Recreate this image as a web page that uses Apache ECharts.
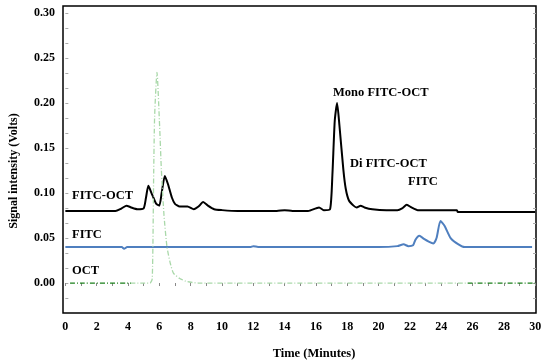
<!DOCTYPE html>
<html>
<head>
<meta charset="utf-8">
<script src="https://cdn.jsdelivr.net/npm/echarts@6/dist/echarts.min.js"></script>
<style>
  html, body { margin: 0; padding: 0; background: #fff; }
  #chart { width: 550px; height: 364px; }
</style>
</head>
<body>
<div id="chart"></div>
<script>
// time (minutes), signal (volts)
var fitcOct = [
  [0, 0.080], [3.2, 0.080], [3.5, 0.082], [3.9, 0.086], [4.2, 0.084], [4.6, 0.082],
  [5.0, 0.083], [5.15, 0.095], [5.3, 0.108], [5.5, 0.100], [5.8, 0.088], [6.0, 0.086],
  [6.15, 0.100], [6.35, 0.119], [6.55, 0.110], [6.8, 0.095], [7.0, 0.088], [7.3, 0.085],
  [7.8, 0.085], [8.2, 0.082], [8.5, 0.085], [8.8, 0.090], [9.1, 0.086], [9.5, 0.082],
  [10, 0.081], [11, 0.080], [13.5, 0.080], [14, 0.081], [14.5, 0.080], [15.5, 0.080],
  [16.0, 0.083], [16.2, 0.084], [16.5, 0.081], [16.9, 0.082], [17.05, 0.120], [17.2, 0.180],
  [17.35, 0.200], [17.5, 0.175], [17.75, 0.126], [17.9, 0.105], [18.1, 0.092], [18.4, 0.086],
  [18.6, 0.084], [18.85, 0.086], [19.1, 0.084], [19.6, 0.082], [20.5, 0.081], [21.2, 0.081],
  [21.5, 0.083], [21.8, 0.087], [22.1, 0.084], [22.5, 0.081], [25, 0.081], [25.05, 0.079],
  [30, 0.079]
];
var fitc = [
  [0, 0.040], [3.6, 0.040], [3.75, 0.038], [3.95, 0.040], [11.8, 0.040], [12.0, 0.041],
  [12.3, 0.040], [20, 0.040], [21.2, 0.041], [21.6, 0.043], [21.9, 0.041], [22.2, 0.042],
  [22.35, 0.048], [22.6, 0.0525], [22.9, 0.049], [23.2, 0.046], [23.5, 0.044], [23.7, 0.050],
  [23.95, 0.069], [24.2, 0.064], [24.6, 0.050], [25.1, 0.043], [25.5, 0.040], [29.8, 0.040]
];
var oct = [
  [0.3, 0], [5.4, 0], [5.55, 0.005], [5.64, 0.122], [5.7, 0.185], [5.85, 0.234],
  [6.02, 0.174], [6.13, 0.126], [6.3, 0.075], [6.49, 0.040], [6.7, 0.022], [6.9, 0.011],
  [7.3, 0.005], [7.8, 0.0015], [8.5, 0], [30, 0]
];
var xTickLabels = [0, 2, 4, 6, 8, 10, 12, 14, 16, 18, 20, 22, 24, 26, 28, 30];
var yTickLabels = [0, 0.05, 0.10, 0.15, 0.20, 0.25, 0.30];

var xMinor = [];
for (var i = 0; i <= 30; i++) xMinor.push(i);
var yMinor = [];
for (var j = -2; j <= 18; j++) yMinor.push(j / 60);

var serif = "'Liberation Serif', 'Times New Roman', serif";
var labelFont = { color: '#000', fontFamily: serif, fontWeight: 'bold', fontSize: 12 };

function note(text, x, y) {
  return {
    type: 'text', left: x, top: y - 7,
    style: { text: text, fill: '#000', font: 'bold 12.5px ' + serif }
  };
}

var chart = echarts.init(document.getElementById('chart'));
chart.setOption({
  animation: false,
  grid: {
    left: 63, right: 14, top: 6, bottom: 51,
    show: true, borderColor: '#000', borderWidth: 1.5, backgroundColor: '#fff'
  },
  xAxis: {
    type: 'value', min: -0.15, max: 30.05,
    axisLine: { show: false },
    splitLine: { show: false },
    axisTick: { show: true, customValues: xMinor, length: 3, lineStyle: { color: '#888' } },
    axisLabel: Object.assign({ customValues: xTickLabels, margin: 8 }, labelFont)
  },
  yAxis: [{
    type: 'value', min: -0.0333, max: 0.3078,
    axisLine: { show: false },
    splitLine: { show: false },
    axisTick: { show: true, inside: true, customValues: yMinor, length: 3, lineStyle: { color: '#aaa' } },
    axisLabel: Object.assign({
      customValues: yTickLabels, margin: 8,
      formatter: function (v) { return v.toFixed(2); }
    }, labelFont)
  }, {
    type: 'value', position: 'right', min: -0.0333, max: 0.3078,
    axisLine: { show: false },
    splitLine: { show: false },
    axisTick: { show: true, inside: true, customValues: yMinor, length: 3, lineStyle: { color: '#aaa' } },
    axisLabel: { show: false }
  }],
  series: [{
    name: 'FITC-OCT', type: 'line', data: fitcOct, showSymbol: false,
    smooth: 0.2, lineStyle: { color: '#000', width: 2 }
  }, {
    name: 'FITC', type: 'line', data: fitc, showSymbol: false,
    smooth: 0.2, lineStyle: { color: '#4f7fbf', width: 2 }
  }, {
    name: 'OCT', type: 'line', data: oct, showSymbol: false, z: 5,
    smooth: 0.2,
    lineStyle: {
      width: 1.3, type: [5, 2, 1, 2],
      color: {
        type: 'linear', x: 0, y: 0, x2: 1, y2: 0,
        colorStops: [
          { offset: 0, color: '#1a7f1a' }, { offset: 0.134, color: '#1a7f1a' },
          { offset: 0.134, color: '#a9d8a9' }, { offset: 0.849, color: '#a9d8a9' },
          { offset: 0.849, color: '#1a7f1a' }, { offset: 1, color: '#1a7f1a' }
        ]
      }
    }
  }],
  graphic: [
    note('FITC-OCT', 72, 196),
    note('FITC', 72, 235),
    note('OCT', 72, 271),
    note('Mono FITC-OCT', 333, 93),
    note('Di FITC-OCT', 350, 164),
    note('FITC', 408, 182),
    {
      type: 'text', x: 314, y: 354,
      style: { text: 'Time (Minutes)', fill: '#000', font: 'bold 12.5px ' + serif, align: 'center', verticalAlign: 'middle' }
    },
    {
      type: 'text', x: 14, y: 171, rotation: Math.PI / 2,
      style: { text: 'Signal intensity (Volts)', fill: '#000', font: 'bold 12px ' + serif, align: 'center', verticalAlign: 'middle' }
    }
  ]
});
</script>
</body>
</html>
